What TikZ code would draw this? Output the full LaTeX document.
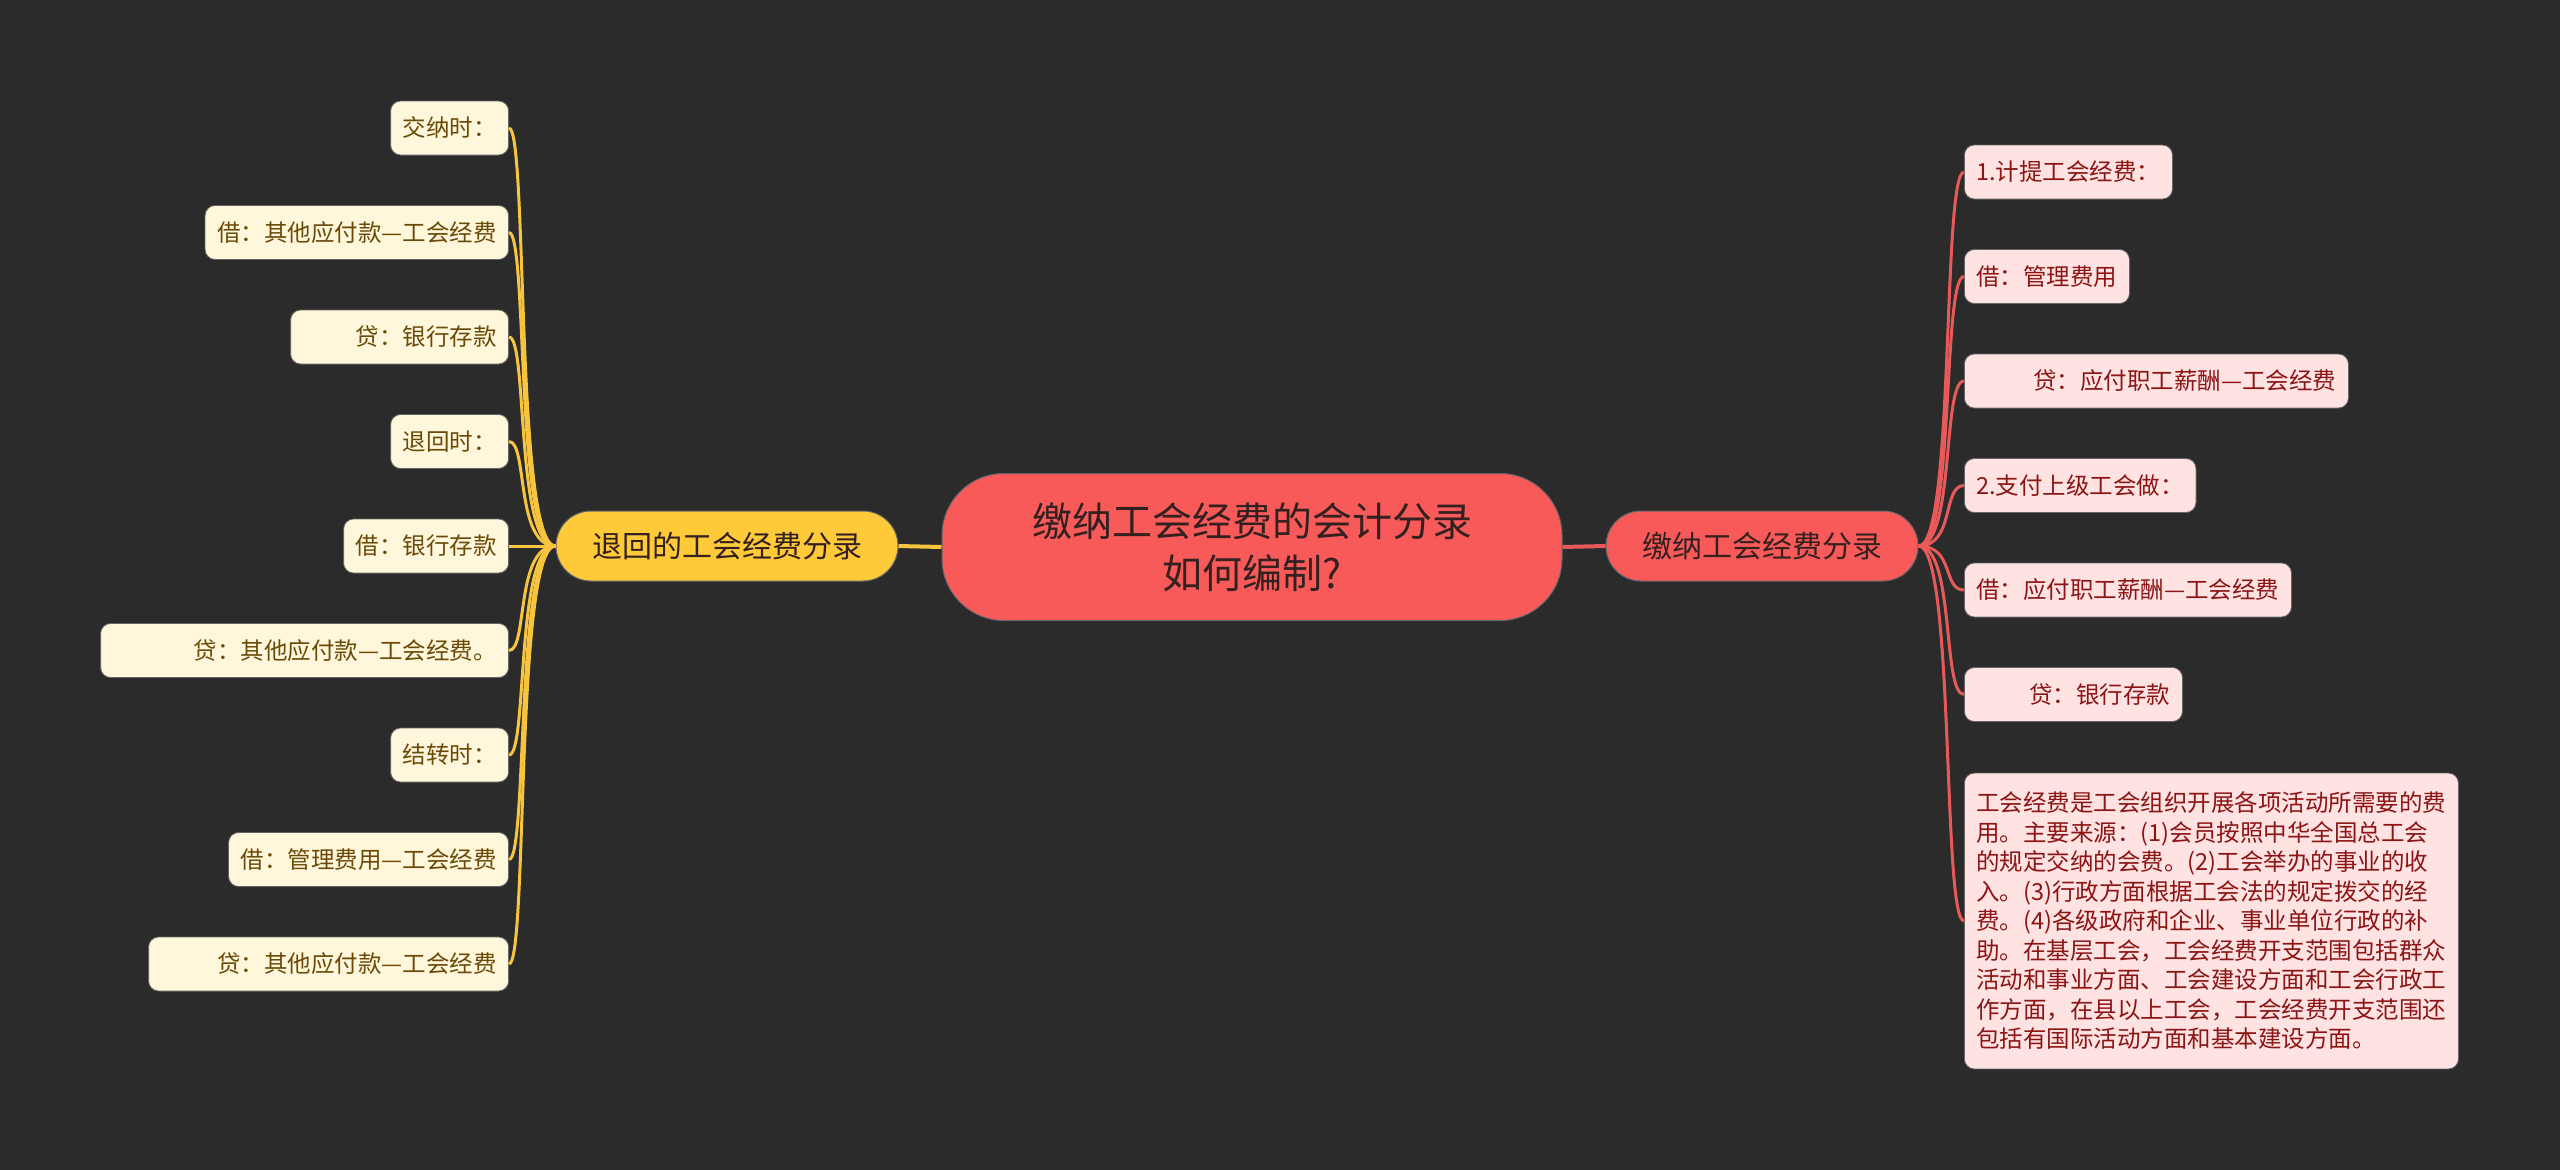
\documentclass[tikz,border=0pt]{standalone}
\usepackage{fontspec}
\setmainfont{Noto Sans CJK SC}
\definecolor{bg}{HTML}{2B2B2B}
\definecolor{redfill}{HTML}{F85A5A}
\definecolor{yellowfill}{HTML}{FFCA3A}
\definecolor{creamfill}{HTML}{FFF7DB}
\definecolor{creamtext}{HTML}{6B4A08}
\definecolor{pinkfill}{HTML}{FFE3E3}
\definecolor{pinktext}{HTML}{8C1414}
\definecolor{yellowline}{HTML}{F6C43F}
\definecolor{redline}{HTML}{E85A5A}
\definecolor{darktext}{HTML}{33201F}

\begin{document}
\begin{tikzpicture}[x=1pt,y=-1pt,
  root/.style={fill=redfill,draw=black!60,line width=1pt,rounded corners=62pt,
    minimum width=620pt,minimum height=147pt,align=center,text=darktext,
    font=\fontsize{40}{52}\selectfont},
  topic/.style={draw=black!60,line width=1pt,rounded corners=35pt,minimum height=70pt,
    inner xsep=36pt,inner ysep=0pt,text height=26.4pt,text depth=3.6pt,text=darktext,
    font=\fontsize{30}{36}\selectfont},
  box/.style={draw=black!60,line width=0.8pt,rounded corners=10pt,inner xsep=12pt,
    font=\fontsize{23.5}{29.5}\selectfont},
  leaf/.style={box,minimum height=54pt,inner ysep=0pt,text height=20.7pt,text depth=2.8pt},
  lleaf/.style={leaf,fill=creamfill,text=creamtext,anchor=east},
  rleaf/.style={leaf,fill=pinkfill,text=pinktext,anchor=west},
  note/.style={box,fill=pinkfill,text=pinktext,anchor=west,inner ysep=19pt,
    text width=470pt,align=left},
  ylink/.style={yellowline,line width=3pt},
  rlink/.style={redline,line width=3pt}]
\useasboundingbox[fill=bg] (0,0) rectangle (2560,1170);

\node[root] (root) at (1252,547) {缴纳工会经费的会计分录\\如何编制?};
\node[topic,fill=yellowfill] (ret) at (727,546) {退回的工会经费分录};
\node[topic,fill=redfill] (pay) at (1762,546) {缴纳工会经费分录};

\node[lleaf] (l1) at (509,128) {交纳时：};
\node[lleaf] (l2) at (509,232.5) {借：其他应付款—工会经费};
\node[lleaf,text width=194pt,align=right] (l3) at (509,337) {贷：银行存款};
\node[lleaf] (l4) at (509,441.5) {退回时：};
\node[lleaf] (l5) at (509,546) {借：银行存款};
\node[lleaf,text width=384pt,align=right] (l6) at (509,650.5) {贷：其他应付款—工会经费。};
\node[lleaf] (l7) at (509,755) {结转时：};
\node[lleaf] (l8) at (509,859.5) {借：管理费用—工会经费};
\node[lleaf,text width=336pt,align=right] (l9) at (509,964) {贷：其他应付款—工会经费};

\node[rleaf] (r1) at (1964,172) {1.计提工会经费：};
\node[rleaf] (r2) at (1964,276.5) {借：管理费用};
\node[rleaf,text width=360pt,align=right] (r3) at (1964,381) {贷：应付职工薪酬—工会经费};
\node[rleaf] (r4) at (1964,485.5) {2.支付上级工会做：};
\node[rleaf] (r5) at (1964,590) {借：应付职工薪酬—工会经费};
\node[rleaf,text width=194pt,align=right] (r6) at (1964,694.5) {贷：银行存款};
\node[note] (r7) at (1964,921) {工会经费是工会组织开展各项活动所需要的费\\
用。主要来源：(1)会员按照中华全国总工会\\
的规定交纳的会费。(2)工会举办的事业的收\\
入。(3)行政方面根据工会法的规定拨交的经\\
费。(4)各级政府和企业、事业单位行政的补\\
助。在基层工会，工会经费开支范围包括群众\\
活动和事业方面、工会建设方面和工会行政工\\
作方面，在县以上工会，工会经费开支范围还\\
包括有国际活动方面和基本建设方面。};

\draw[ylink,line width=4pt] (root.west) -- (ret.east);
\draw[rlink,line width=4pt] (root.east) -- (pay.west);
\foreach \i in {1,...,9}
  \draw[ylink] (ret.west) .. controls (515,546) and (528,0 |- l\i.east) .. (l\i.east);
\foreach \i in {1,...,7}
  \draw[rlink] (pay.east) .. controls (1955,546) and (1942,0 |- r\i.west) .. (r\i.west);
\end{tikzpicture}
\end{document}
